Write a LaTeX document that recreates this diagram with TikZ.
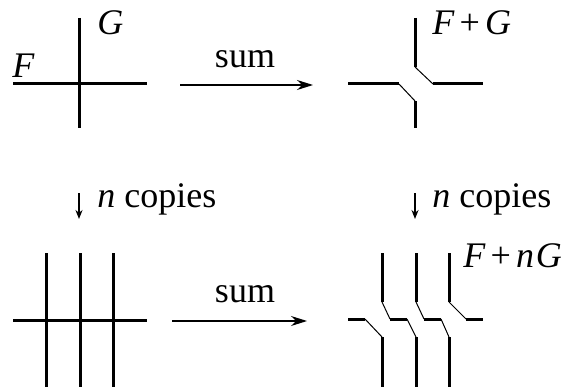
\documentclass[tikz,border=0pt]{standalone}
\usepackage{fontspec}
\setmainfont{Liberation Serif}
\usetikzlibrary{arrows.meta}
\tikzset{
  every picture/.style={line join=round, >=Stealth},
  strand/.style={line width=1.5pt},
  twist/.style={line width=0.5pt},
  sumarrow/.style={line width=0.6pt, -{Stealth[length=8pt,width=5pt]}},
  copyarrow/.style={line width=0.8pt, -{Stealth[length=4.5pt,width=3.5pt]}},
  lbl/.style={inner sep=0pt, anchor=base west},
}

\begin{document}
\begin{tikzpicture}[x=0.5pt,y=-0.5pt,font=\fontsize{18}{20}\selectfont]
\useasboundingbox (0,0) rectangle (577,390);
% single crossing
\draw[strand] (13,84) -- (147,84);
\draw[strand] (79,18) -- (79,128);
\node[lbl] (F) at (12,77) {\textit{F}};
\node[lbl] (G) at (97,35) {\textit{G}};
% its sum
\draw[strand] (348,84) -- (399,84);
\draw[twist] (399,84) -- (415,101);
\draw[strand] (415,101) -- (415,128);
\draw[strand] (415,18) -- (415,67);
\draw[twist] (415,67) -- (433,84);
\draw[strand] (433,84) -- (483,84);
\node[lbl] (FG) at (432,35) {\textit{F}\kern2.5pt+\kern2.5pt\textit{G}};
% n copies
\draw[strand] (13,320) -- (147,320);
\foreach \x in {46,80,113}
  \draw[strand] (\x,253) -- (\x,387);
% sum of the copies
\draw[strand] (348,319) -- (365,319) (390,319) -- (407,319)
  (424,319) -- (441,319) (466,319) -- (483,319);
\foreach \x/\a/\b in {382/365/390, 416/407/424, 449/441/466}{
  \draw[strand] (\x,253) -- (\x,302);
  \draw[twist] (\x,302) -- (\b,319);
  \draw[twist] (\a,319) -- (\x,337);
  \draw[strand] (\x,337) -- (\x,387);
}
\node[lbl] (FnG) at (463,267) {\textit{F}\kern2.5pt+\kern2.5pt\textit{n}\kern1pt\textit{G}};
% arrows
\coordinate (sumTs) at (180,85);
\coordinate (sumTe) at (313,85);
\coordinate (sumBs) at (172,321);
\coordinate (sumBe) at (307,321);
\coordinate (cpLs) at (79,193);
\coordinate (cpLe) at (79,219);
\coordinate (cpRs) at (415,193);
\coordinate (cpRe) at (415,219);
\draw[sumarrow] (sumTs) -- (sumTe);
\draw[sumarrow] (sumBs) -- (sumBe);
\draw[copyarrow] (cpLs) -- (cpLe);
\draw[copyarrow] (cpRs) -- (cpRe);
\node[inner sep=0pt] (sumT) at (245,59) {sum};
\node[inner sep=0pt] (sumB) at (245,294) {sum};
\node[lbl] (copiesL) at (97,207) {\textit{n} copies};
\node[lbl] (copiesR) at (432,207) {\textit{n} copies};
\end{tikzpicture}
\end{document}
